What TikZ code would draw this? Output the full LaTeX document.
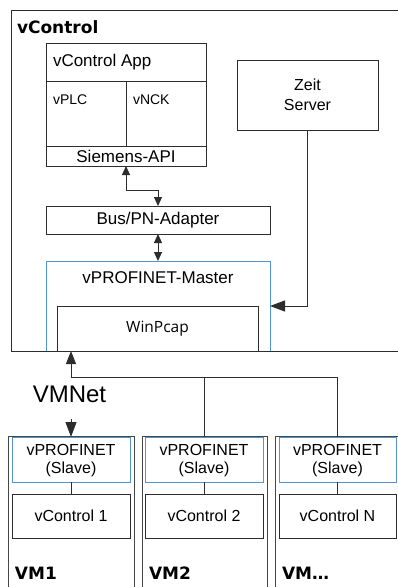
\documentclass[tikz,border=0pt]{standalone}
\usepackage{fontspec}
\setmainfont{Liberation Sans}
\newfontfamily\heavyfont{DejaVu Sans}
\newfontfamily\osfont{Open Sans}
\usetikzlibrary{arrows.meta}
\definecolor{pnblue}{RGB}{80,150,215}
\definecolor{linegray}{RGB}{45,45,45}
\definecolor{vmgray}{RGB}{70,70,70}
\begin{document}
\begin{tikzpicture}[x=1pt,y=-1pt,
  every node/.style={inner sep=0pt,outer sep=0pt},
  box/.style={draw=linegray,line width=1pt,anchor=north west},
  bluebox/.style={draw=pnblue,line width=1pt,anchor=north west},
  vmbox/.style={draw=vmgray,line width=1pt,anchor=north west},
  con/.style={draw=linegray,line width=1pt},
  tipS/.style={{Triangle[length=9pt,width=8pt]}-{Triangle[length=9pt,width=8pt]}},
  tipBig/.style={-{Triangle[length=15pt,width=11pt]}},
  tipMid/.style={-{Triangle[length=13pt,width=10pt]}},
  txt/.style={font=\fontsize{17}{20}\selectfont},
  small/.style={font=\fontsize{14}{16}\selectfont,anchor=west},
  heading/.style={font=\heavyfont\bfseries\fontsize{17}{20}\selectfont,anchor=west},
  slavetxt/.style={font=\fontsize{16}{18}\selectfont,align=center}
]
\useasboundingbox (0,0) rectangle (398,587);
% outer vControl frame
\node[box,minimum width=395,minimum height=341] (vc) at (11,10) {};
\node[heading] (vctitle) at (17,27) {vControl};
% vControl App block
\node[box,minimum width=160,minimum height=38] (app) at (46,43) {};
\node[txt,anchor=west] (apptxt) at (53,62) {vControl App};
\node[box,minimum width=80,minimum height=65] (vplc) at (46,81) {};
\node[box,minimum width=80,minimum height=65] (vnck) at (126,81) {};
\node[small] (vplctxt) at (53,100) {vPLC};
\node[small] (vncktxt) at (133,100) {vNCK};
\node[box,minimum width=160,minimum height=20] (siemens) at (46,146) {};
\node[txt] (siemenstxt) at (126,156.5) {Siemens-API};
% Zeit Server
\node[box,minimum width=141,minimum height=70] (zeit) at (237,60) {};
\node[font=\fontsize{16}{20}\selectfont,align=center] (zeittxt) at (307.5,95) {Zeit\\Server};
% Bus adapter
\node[box,minimum width=224,minimum height=28] (bus) at (46,206) {};
\node[txt] (bustxt) at (158,220) {Bus/PN-Adapter};
% vPROFINET master
\node[bluebox,minimum width=224,minimum height=90] (master) at (46,261) {};
\node[txt] (mastertxt) at (158,278) {vPROFINET-Master};
\node[box,minimum width=201,minimum height=45] (winpcap) at (57,306) {};
\node[font=\osfont\fontsize{15.5}{18}\selectfont] (winpcaptxt) at (157.5,329) {WinPcap};
% redraw bottom frame line on top
\draw[con] (vc.south west) -- (vc.south east);
% connectors inside vControl
\draw[con,tipS] (siemens.south) -- ++(0,24) -| (bus.north);
\draw[con,tipS] (bus.south) -- (master.north);
\draw[con,tipBig] (zeit.south) |- (master.east |- winpcap.north);
% VMs
\foreach \n/\x/\w/\sx/\sw in {1/8/126/12/118, 2/142/125/145/118, 3/275/130/279/117}{
  \node[vmbox,minimum width=\w,minimum height=160] (vm\n) at (\x,436) {};
  \node[bluebox,minimum width=\sw,minimum height=45] (s\n) at (\sx,437) {};
  \node[slavetxt] (s\n txt) at ([yshift=-1.5]s\n.center) {vPROFINET\\(Slave)};
  \node[box,minimum width=\sw,minimum height=44] (c\n) at (\sx,494) {};
  \draw[con] (s\n.south) -- (c\n.north);
}
\node[heading] (vm1lab) at (15,573) {VM1};
\node[heading] (vm2lab) at (149,573) {VM2};
\node[heading] (vm3lab) at (282,573) {VM\ldots};
\node[font=\fontsize{16}{18}\selectfont] (c1txt) at (c1.center) {vControl 1};
\node[font=\fontsize{16}{18}\selectfont] (c2txt) at (c2.center) {vControl 2};
\node[font=\fontsize{16}{18}\selectfont] (c3txt) at (c3.center) {vControl N};
% VMNet
\coordinate (net) at (71,377);
\draw[con,tipMid] (net) -- (net |- vc.south);
\draw[con] (net) -- (net -| s3.north) -- (s3.north);
\draw[con] (s2.north |- net) -- (s2.north);
\node[font=\fontsize{24}{24}\selectfont] (vmnet) at (69.5,394) {VMNet};
\coordinate (vmd) at (71,419);
\draw[con,tipBig] (vmd) -- (s1.north);
\end{tikzpicture}
\end{document}
